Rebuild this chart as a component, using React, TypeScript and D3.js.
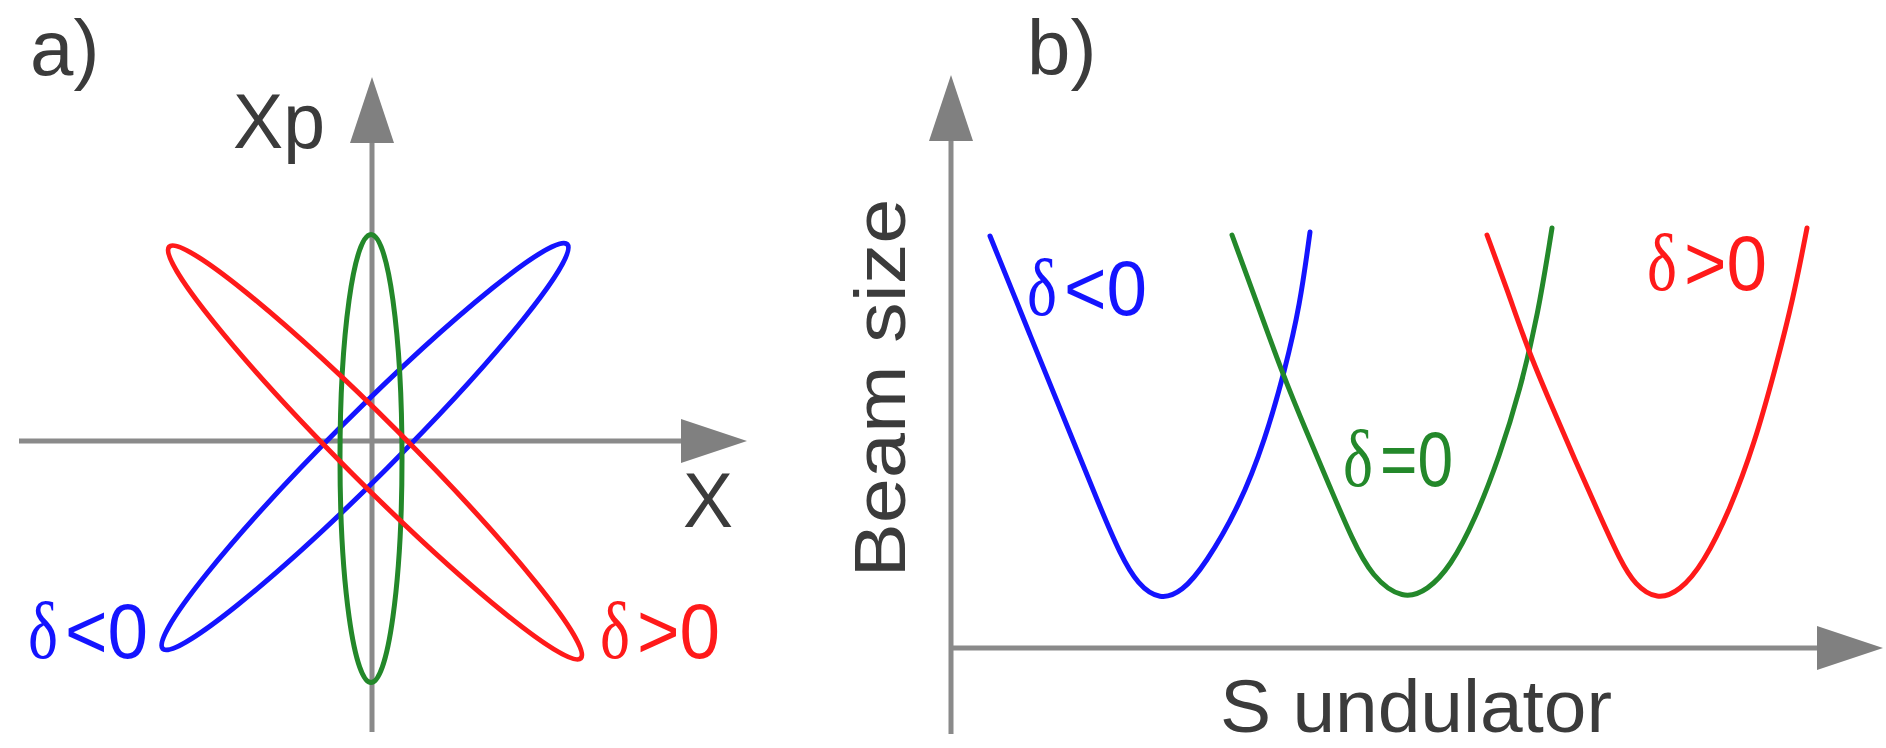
import React from "react";
import * as d3 from "d3";

// ---------- Panel a: phase-space ellipses (units: px/10 around origin) ----------
const ellipseNames = ["δ<0", "δ=0", "δ>0"];
const ellipseColors = ["#1414ff", "#23882a", "#ff1a1a"];
const ellipseCx = [-0.7, -0.1, 0.3];
const ellipseCy = [-0.55, -1.75, -1.15];
const ellipseSemiMajor = [28.6, 22.4, 29.1];
const ellipseSemiMinor = [3.1, 3.1, 3.1];
const ellipseAngle = [45, 90, -45]; // degrees, counter-clockwise from X axis

// ---------- Panel b: beam size vs S ----------
const curveNames = ["δ<0", "δ=0", "δ>0"];
const curveColors = ["#1414ff", "#23882a", "#ff1a1a"];
const blueS = [3.9, 7.9, 11.9, 14.9, 16.9, 18.7, 20.9, 23.1, 25.4, 28.9, 31.4, 33.4, 34.9, 35.9];
const blueSize = [41.2, 31.3, 21.5, 14.1, 9.4, 6.3, 4.8, 5.6, 8.3, 14.3, 20.8, 27.8, 34.3, 41.6];
const greenS = [28.1, 30.7, 33.2, 35.6, 37.9, 40.1, 42.1, 45.2, 47.7, 49.9, 52.4, 54.9, 56.9, 58.7, 60.1];
const greenSize = [41.3, 34.2, 27.3, 21.5, 16.1, 10.9, 7.1, 4.8, 5.8, 8.1, 12.8, 19.3, 25.8, 33.3, 42.0];
const redS = [53.6, 55.7, 57.7, 59.9, 62.4, 64.9, 66.9, 68.4, 70.6, 72.9, 75.2, 77.9, 80.4, 82.4, 84.2, 85.6];
const redSize = [41.3, 35.6, 29.8, 24.6, 18.8, 13.2, 8.8, 6.3, 4.8, 5.7, 8.4, 13.8, 20.6, 27.8, 34.8, 42.0];
const curveLabelS = [7.6, 39.2, 69.6];
const curveLabelSize = [33.3, 16.2, 35.8];
const curveLabelOps = ["<", "=", ">"];

const W = 1886;
const H = 748;
const axisColor = "#8a8a8a";
const textColor = "#3b3b3b";
const font = "'Liberation Sans', Arial, sans-serif";
const deltaFont = "'Liberation Serif', 'DejaVu Serif', serif";

function DeltaLabel(props: { x: number; y: number; op: string; color: string; width: number }) {
  const { x, y, op, color, width } = props;
  return (
    <g>
      <text x={x} y={y} fontSize={80} fontFamily={deltaFont} fill={color} textLength={30} lengthAdjust="spacingAndGlyphs">
        δ
      </text>
      <text x={x + 37} y={y} fontSize={78} fill={color} textLength={width - 37} lengthAdjust="spacingAndGlyphs">
        {op + "0"}
      </text>
    </g>
  );
}

export default function App() {
  // Panel a scales
  const ax = d3.scaleLinear().domain([-35.3, 37.5]).range([19, 747]);
  const ay = d3.scaleLinear().domain([-29.1, 36.4]).range([732, 77]);
  const pxPerUnitA = ax(1) - ax(0);

  // Panel b scales
  const bx = d3.scaleLinear().domain([0, 93.2]).range([951, 1883]);
  const by = d3.scaleLinear().domain([-8.6, 57.3]).range([734, 75]);

  const series = [
    { s: blueS, v: blueSize },
    { s: greenS, v: greenSize },
    { s: redS, v: redSize },
  ];
  const line = d3
    .line<[number, number]>()
    .x((d) => bx(d[0]))
    .y((d) => by(d[1]))
    .curve(d3.curveBasis);

  const arrowLen = 66;
  const arrowHalf = 22;

  const aOx = ax(0);
  const aOy = ay(0);
  const aTop = ay(36.4);
  const aBottom = ay(-29.1);
  const aLeft = ax(-35.3);
  const aRight = ax(37.5);

  const bOx = bx(0);
  const bOy = by(0);
  const bTop = by(57.3);
  const bBottom = by(-8.6);
  const bRight = bx(93.2);

  return (
    <svg
      width={W}
      height={H}
      style={{ position: "absolute", left: 0, top: 0, background: "#fff" }}
      fontFamily={font}
    >
      <rect x={0} y={0} width={W} height={H} fill="#fff" />

      {/* ---------- Panel a ---------- */}
      <text x={30} y={75} fontSize={78} fill={textColor}>a)</text>
      <line x1={aLeft} y1={aOy} x2={aRight - arrowLen + 4} y2={aOy} stroke={axisColor} strokeWidth={5} />
      <line x1={aOx} y1={aBottom} x2={aOx} y2={aTop + arrowLen - 4} stroke={axisColor} strokeWidth={5} />
      <polygon
        points={`${aRight},${aOy} ${aRight - arrowLen},${aOy - arrowHalf} ${aRight - arrowLen},${aOy + arrowHalf}`}
        fill="#808080"
      />
      <polygon
        points={`${aOx},${aTop} ${aOx - arrowHalf},${aTop + arrowLen} ${aOx + arrowHalf},${aTop + arrowLen}`}
        fill="#808080"
      />
      <text x={233} y={148} fontSize={78} fill={textColor} textLength={92} lengthAdjust="spacingAndGlyphs">Xp</text>
      <text x={683} y={527} fontSize={78} fill={textColor} textLength={50} lengthAdjust="spacingAndGlyphs">X</text>

      {ellipseNames.map((n, i) => (
        <ellipse
          key={n}
          cx={ax(ellipseCx[i])}
          cy={ay(ellipseCy[i])}
          rx={ellipseSemiMajor[i] * pxPerUnitA}
          ry={ellipseSemiMinor[i] * pxPerUnitA}
          transform={`rotate(${-ellipseAngle[i]} ${ax(ellipseCx[i])} ${ay(ellipseCy[i])})`}
          fill="none"
          stroke={ellipseColors[i]}
          strokeWidth={5}
        />
      ))}
      <DeltaLabel x={28} y={658} op="<" color={ellipseColors[0]} width={120} />
      <DeltaLabel x={600} y={658} op=">" color={ellipseColors[2]} width={120} />

      {/* ---------- Panel b ---------- */}
      <text x={1027} y={75} fontSize={78} fill={textColor}>b)</text>
      <line x1={bOx} y1={bBottom} x2={bOx} y2={bTop + arrowLen - 4} stroke={axisColor} strokeWidth={5} />
      <line x1={bOx} y1={bOy} x2={bRight - arrowLen + 4} y2={bOy} stroke={axisColor} strokeWidth={5} />
      <polygon
        points={`${bOx},${bTop} ${bOx - arrowHalf},${bTop + arrowLen} ${bOx + arrowHalf},${bTop + arrowLen}`}
        fill="#808080"
      />
      <polygon
        points={`${bRight},${bOy} ${bRight - arrowLen},${bOy - arrowHalf} ${bRight - arrowLen},${bOy + arrowHalf}`}
        fill="#808080"
      />
      <text
        transform={`translate(905, 388) rotate(-90)`}
        textAnchor="middle"
        fontSize={72}
        fill={textColor}
        textLength={379}
        lengthAdjust="spacingAndGlyphs"
      >
        Beam size
      </text>
      <text x={1220} y={732} fontSize={74} fill={textColor} textLength={392} lengthAdjust="spacingAndGlyphs">S undulator</text>

      {series.map((ser, i) => (
        <path
          key={curveNames[i]}
          d={line(ser.s.map((s, j) => [s, ser.v[j]] as [number, number])) || ""}
          fill="none"
          stroke={curveColors[i]}
          strokeWidth={5}
          strokeLinecap="round"
        />
      ))}
      {curveNames.map((n, i) => (
        <DeltaLabel
          key={"lbl" + n}
          x={bx(curveLabelS[i])}
          y={by(curveLabelSize[i])}
          op={curveLabelOps[i]}
          color={curveColors[i]}
          width={i === 1 ? 110 : 120}
        />
      ))}
    </svg>
  );
}
